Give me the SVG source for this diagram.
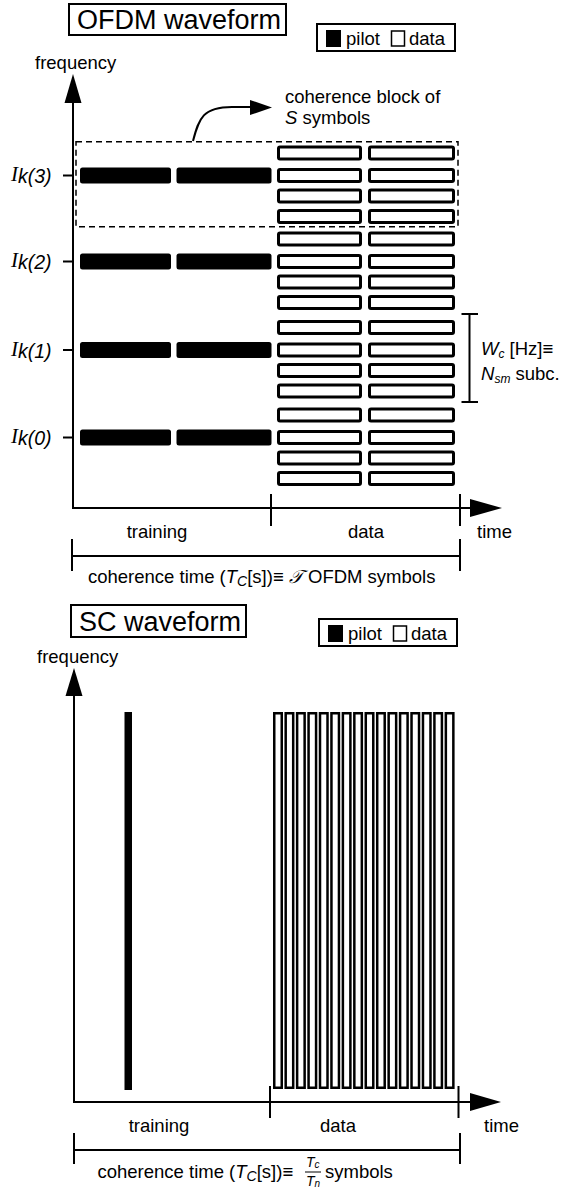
<svg xmlns="http://www.w3.org/2000/svg" width="566" height="1189" viewBox="0 0 566 1189">
<style>
text{font-family:"Liberation Sans",Arial,sans-serif;fill:#000}
.t{font-size:18.5px}
.lab{font-size:19.5px}
.title{font-size:27px}
.ax{stroke:#000;stroke-width:2;fill:none}
.box{stroke:#000;stroke-width:2;fill:#fff}
.pil{fill:#000}
.dat{fill:#fff;stroke:#000;stroke-width:3}
.sdat{fill:#fff;stroke:#000;stroke-width:2.5}
.dash{fill:none;stroke:#000;stroke-width:1.5;stroke-dasharray:6 4}
.it{font-style:italic}
.cal{font-family:"DejaVu Serif","DejaVu Sans",serif;font-style:italic}
.ci{font-family:"Liberation Serif","Times New Roman",serif;font-style:italic;font-size:21px}
</style>
<defs>
<g id="drow">
<rect class="dat" x="278.5" y="-6" width="82" height="12" rx="1.5"/>
<rect class="dat" x="369.5" y="-6" width="84" height="12" rx="1.5"/>
</g>
<g id="dgroup">
<use href="#drow" y="-22.5"/>
<use href="#drow" y="0"/>
<use href="#drow" y="20.5"/>
<use href="#drow" y="41"/>
</g>
<g id="pgroup">
<rect class="pil" x="80" y="-8" width="91" height="16" rx="2.5"/>
<rect class="pil" x="176.5" y="-8" width="95" height="16" rx="2.5"/>
<line class="ax" x1="63" y1="0" x2="73" y2="0"/>
</g>
</defs>

<!-- OFDM -->
<g id="ofdm-title">
<rect class="box" x="69" y="4" width="217" height="31"/>
<text class="title" x="77" y="29">OFDM waveform</text>
</g>
<g id="ofdm-legend">
<rect class="box" x="317" y="24" width="138" height="27"/>
<rect x="326" y="30" width="15" height="17" fill="#000"/>
<text class="t" x="346" y="45">pilot</text>
<rect x="391.5" y="31" width="13" height="15" fill="#fff" stroke="#000" stroke-width="1.5"/>
<text class="t" x="409" y="45">data</text>
</g>
<g id="ofdm-axes">
<text class="t" x="35" y="69">frequency</text>
<line class="ax" x1="73" y1="100" x2="73" y2="508"/>
<polygon points="73,74 64.5,103 81.5,103" fill="#000"/>
<line class="ax" x1="72" y1="508" x2="472" y2="508"/>
<polygon points="502,508 470,499 470,517" fill="#000"/>
<line class="ax" x1="271" y1="494" x2="271" y2="526"/>
<line class="ax" x1="460" y1="494" x2="460" y2="526"/>
<text class="t" x="157" y="538" text-anchor="middle">training</text>
<text class="t" x="366" y="538" text-anchor="middle">data</text>
<text class="t" x="477" y="538">time</text>
</g>
<g id="ofdm-bracket">
<line class="ax" x1="72" y1="556" x2="460" y2="556"/>
<line class="ax" x1="72" y1="539" x2="72" y2="571"/>
<line class="ax" x1="460" y1="539" x2="460" y2="571"/>
<text class="t" x="88" y="583" font-size="19">coherence time (<tspan class="it">T</tspan><tspan class="it" font-size="14" dy="3">C</tspan><tspan dy="-3">[s])</tspan>≡ <tspan class="cal">𝒯</tspan> OFDM symbols</text>
</g>
<g id="ofdm-pilots">
<use href="#pgroup" y="175.5"/>
<use href="#pgroup" y="261.5"/>
<use href="#pgroup" y="350"/>
<use href="#pgroup" y="437.5"/>
</g>
<g id="ofdm-labels">
<text class="lab" x="11" y="181"><tspan class="ci">I</tspan><tspan class="it" dy="2">k(3)</tspan></text>
<text class="lab" x="11" y="267"><tspan class="ci">I</tspan><tspan class="it" dy="2">k(2)</tspan></text>
<text class="lab" x="11" y="355.5"><tspan class="ci">I</tspan><tspan class="it" dy="2">k(1)</tspan></text>
<text class="lab" x="11" y="443"><tspan class="ci">I</tspan><tspan class="it" dy="2">k(0)</tspan></text>
</g>
<g id="ofdm-data">
<use href="#dgroup" y="175.5"/>
<use href="#dgroup" y="261.5"/>
<use href="#dgroup" y="350"/>
<use href="#dgroup" y="437.5"/>
</g>
<g id="coherence-block">
<rect class="dash" x="76" y="141.7" width="382" height="85"/>
<text class="t" x="285" y="103">coherence block of</text>
<text class="t" x="285" y="124"><tspan class="it" font-weight="300">S</tspan> symbols</text>
</g>
<g id="wc-bracket">
<line class="ax" x1="469.5" y1="314" x2="469.5" y2="402"/>
<line class="ax" x1="461.5" y1="314" x2="478" y2="314"/>
<line class="ax" x1="461.5" y1="402" x2="478" y2="402"/>
<text class="t" x="481" y="355"><tspan class="it">W</tspan><tspan class="it" font-size="12" dy="3">c</tspan><tspan dy="-3"> [Hz]≡</tspan></text>
<text class="t" x="481" y="380"><tspan class="it">N</tspan><tspan class="it" font-size="12" dy="3">sm</tspan><tspan dy="-3"> subc.</tspan></text>
</g>
<g id="connectors">
<path d="M193,141 C199,118 203,107 232,107 L252,107" class="ax" stroke-width="2"/>
<polygon points="272,107.5 250,100 250,115" fill="#000"/>
</g>

<!-- SC -->
<g id="sc-title">
<rect class="box" x="71" y="605" width="175" height="32"/>
<text class="title" x="79" y="631">SC waveform</text>
</g>
<g id="sc-legend">
<rect class="box" x="319" y="619" width="138" height="27"/>
<rect x="328" y="625" width="15" height="17" fill="#000"/>
<text class="t" x="348" y="640">pilot</text>
<rect x="393.5" y="626" width="13" height="15" fill="#fff" stroke="#000" stroke-width="1.5"/>
<text class="t" x="411" y="640">data</text>
</g>
<g id="sc-axes">
<text class="t" x="37" y="663">frequency</text>
<line class="ax" x1="74" y1="694" x2="74" y2="1102"/>
<polygon points="74,668 65.5,696 82.5,696" fill="#000"/>
<line class="ax" x1="73" y1="1102" x2="472" y2="1102"/>
<polygon points="501,1102 470,1093 470,1111" fill="#000"/>
<line class="ax" x1="270" y1="1086" x2="270" y2="1118"/>
<line class="ax" x1="458.5" y1="1086" x2="458.5" y2="1118"/>
<text class="t" x="159" y="1132" text-anchor="middle">training</text>
<text class="t" x="338" y="1132" text-anchor="middle">data</text>
<text class="t" x="484" y="1132">time</text>
</g>
<g id="sc-bracket">
<line class="ax" x1="74" y1="1150" x2="460" y2="1150"/>
<line class="ax" x1="74" y1="1133" x2="74" y2="1164"/>
<line class="ax" x1="460" y1="1133" x2="460" y2="1164"/>
<text class="t" x="97.5" y="1178" font-size="19">coherence time (<tspan class="it">T</tspan><tspan class="it" font-size="14" dy="3">C</tspan><tspan dy="-3">[s])</tspan>≡</text>
<text x="306" y="1167" font-size="14"><tspan class="it">T</tspan><tspan class="it" font-size="10" dy="1">c</tspan></text>
<line x1="305" y1="1172" x2="321" y2="1172" stroke="#000" stroke-width="1"/>
<text x="306" y="1186" font-size="14"><tspan class="it">T</tspan><tspan class="it" font-size="10" dy="1">n</tspan></text>
<text class="t" x="325" y="1178" font-size="19">symbols</text>
</g>
<g id="sc-pilot">
<rect class="pil" x="124.5" y="712" width="7.5" height="378"/>
</g>
<g id="sc-data">
<rect class="sdat" x="274.25" y="713.25" width="7.5" height="374.5"/>
<rect class="sdat" x="285.69" y="713.25" width="7.5" height="374.5"/>
<rect class="sdat" x="297.13" y="713.25" width="7.5" height="374.5"/>
<rect class="sdat" x="308.57" y="713.25" width="7.5" height="374.5"/>
<rect class="sdat" x="320.01" y="713.25" width="7.5" height="374.5"/>
<rect class="sdat" x="331.45" y="713.25" width="7.5" height="374.5"/>
<rect class="sdat" x="342.89" y="713.25" width="7.5" height="374.5"/>
<rect class="sdat" x="354.33" y="713.25" width="7.5" height="374.5"/>
<rect class="sdat" x="365.77" y="713.25" width="7.5" height="374.5"/>
<rect class="sdat" x="377.21" y="713.25" width="7.5" height="374.5"/>
<rect class="sdat" x="388.65" y="713.25" width="7.5" height="374.5"/>
<rect class="sdat" x="400.09" y="713.25" width="7.5" height="374.5"/>
<rect class="sdat" x="411.53" y="713.25" width="7.5" height="374.5"/>
<rect class="sdat" x="422.97" y="713.25" width="7.5" height="374.5"/>
<rect class="sdat" x="434.41" y="713.25" width="7.5" height="374.5"/>
<rect class="sdat" x="445.85" y="713.25" width="7.5" height="374.5"/>
</g>
</svg>
